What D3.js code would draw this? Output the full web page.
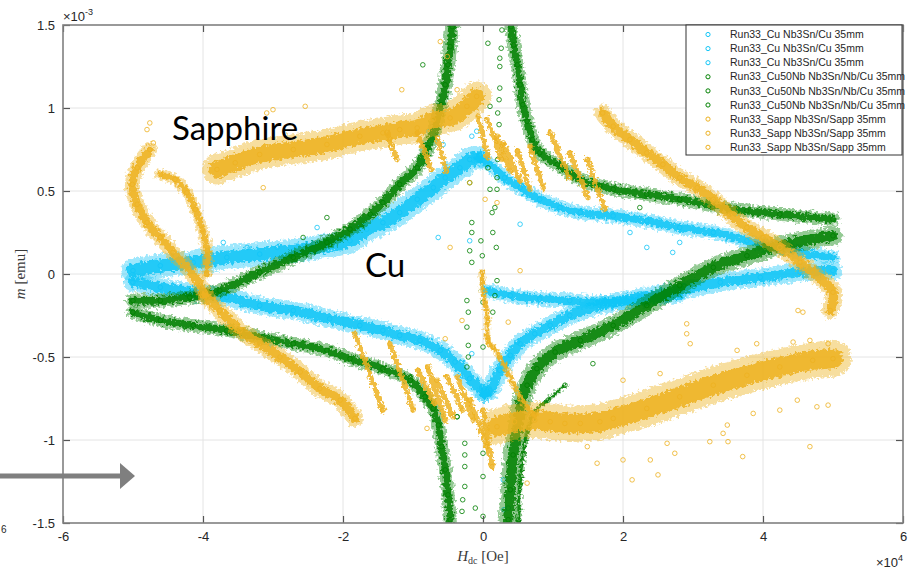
<!DOCTYPE html>
<html>
<head>
<meta charset="utf-8">
<script src="https://cdn.jsdelivr.net/npm/d3@7"></script>
<style>
  body { margin: 0; background: #fff; }
  svg { display: block; }
</style>
</head>
<body>
<svg id="chart" width="916" height="570"></svg>
<script>
// Units: field H in 1e4 Oe, moment m in 1e-3 emu.  Each branch is a list of [H, m].
const xTicks = [-6, -4, -2, 0, 2, 4, 6];
const yTicks = [-1.5, -1, -0.5, 0, 0.5, 1, 1.5];

const legendLabels = [
  "Run33_Cu Nb3Sn/Cu 35mm", "Run33_Cu Nb3Sn/Cu 35mm", "Run33_Cu Nb3Sn/Cu 35mm",
  "Run33_Cu50Nb Nb3Sn/Nb/Cu 35mm", "Run33_Cu50Nb Nb3Sn/Nb/Cu 35mm", "Run33_Cu50Nb Nb3Sn/Nb/Cu 35mm",
  "Run33_Sapp Nb3Sn/Sapp 35mm", "Run33_Sapp Nb3Sn/Sapp 35mm", "Run33_Sapp Nb3Sn/Sapp 35mm"
];
const legendSeries = ["cu", "cu", "cu", "nb", "nb", "nb", "sapp", "sapp", "sapp"];

// ---- Run33_Cu (Nb3Sn/Cu) ----
const cuUpperRight = [[5.0,0.10],[4.53,0.13],[4.24,0.16],[3.77,0.20],[3.29,0.25],[2.81,0.28],[2.34,0.32],[1.86,0.35],[1.39,0.37],[1.10,0.40],[0.81,0.45],[0.53,0.52],[0.31,0.58],[0.10,0.66],[-0.07,0.70]];
const cuUpperLeft = [[-0.07,0.70],[-0.19,0.69],[-0.33,0.64],[-0.54,0.58],[-0.71,0.52],[-0.94,0.45],[-1.19,0.37],[-1.43,0.31],[-1.66,0.27],[-1.90,0.20],[-2.23,0.17],[-2.71,0.14],[-3.19,0.12],[-3.66,0.10],[-4.14,0.07],[-4.61,0.05],[-5.0,0.02]];
const cuLowerLeft = [[0.03,-0.72],[-0.19,-0.63],[-0.40,-0.53],[-0.61,-0.46],[-0.90,-0.40],[-1.19,-0.37],[-1.43,-0.34],[-1.76,-0.31],[-2.19,-0.27],[-2.71,-0.22],[-3.19,-0.19],[-3.66,-0.14],[-4.14,-0.11],[-4.61,-0.08],[-5.0,-0.05]];
const cuLowerRight = [[0.03,-0.72],[0.10,-0.70],[0.24,-0.58],[0.39,-0.49],[0.53,-0.42],[0.74,-0.36],[0.96,-0.31],[1.24,-0.25],[1.67,-0.19],[2.24,-0.14],[2.81,-0.10],[3.39,-0.05],[3.96,-0.02],[4.53,0.01],[5.0,0.02]];
const cuVirgin = [[0.06,-0.10],[0.39,-0.13],[0.81,-0.15],[1.24,-0.16],[1.67,-0.17],[2.24,-0.16],[2.81,-0.13]];
const cuStray = [[0.29,-1.24],[0.36,-1.41],[0.30,-1.42],[0.53,0.30],[-3.71,0.19],[-3.37,0.16],[-2.94,0.16],[-2.37,0.28],[-0.57,0.78],[-0.16,0.83],[-0.09,0.86],[-0.64,0.22],[-0.19,0.20],[0.49,-0.41],[-0.16,-0.48],[2.10,0.25],[2.34,0.16],[2.81,0.19],[2.71,0.13]];

// ---- Run33_Cu50Nb (Nb3Sn/Nb/Cu) ----
const nbUpperLeft = [[-5.0,-0.16],[-4.61,-0.16],[-4.19,-0.14],[-3.76,-0.10],[-3.19,0.01],[-2.71,0.10],[-2.23,0.19],[-1.90,0.27],[-1.61,0.36],[-1.43,0.43],[-1.19,0.54],[-0.94,0.64],[-0.79,0.76],[-0.67,0.90],[-0.60,1.02],[-0.54,1.14],[-0.50,1.26],[-0.47,1.37],[-0.44,1.49],[-0.43,1.55]];
const nbUpperRight = [[0.39,1.55],[0.40,1.49],[0.44,1.38],[0.49,1.26],[0.53,1.14],[0.57,1.02],[0.63,0.92],[0.71,0.81],[0.81,0.73],[1.06,0.66],[1.39,0.57],[1.67,0.53],[1.86,0.51],[2.34,0.48],[2.81,0.45],[3.29,0.41],[3.77,0.38],[4.24,0.36],[5.0,0.33]];
const nbLowerLeft = [[-0.46,-1.55],[-0.47,-1.48],[-0.50,-1.33],[-0.54,-1.18],[-0.59,-1.04],[-0.64,-0.91],[-0.71,-0.81],[-0.83,-0.74],[-1.04,-0.64],[-1.43,-0.57],[-1.90,-0.51],[-2.23,-0.46],[-2.71,-0.42],[-3.19,-0.38],[-3.66,-0.34],[-4.14,-0.31],[-4.61,-0.28],[-5.0,-0.23]];
const nbLowerRight = [[0.35,-1.55],[0.36,-1.48],[0.39,-1.30],[0.43,-1.09],[0.49,-0.93],[0.54,-0.79],[0.63,-0.67],[0.77,-0.57],[1.03,-0.47],[1.39,-0.40],[1.86,-0.31],[2.34,-0.19],[2.81,-0.07],[3.29,0.04],[3.77,0.11],[4.24,0.17],[5.0,0.23]];
const nbLowerRight2 = [[0.51,-1.55],[0.51,-1.48],[0.53,-1.27],[0.57,-1.09],[0.64,-0.94],[0.74,-0.83],[0.93,-0.76],[1.17,-0.67]];
const nbSparse = [[0.27,1.47],[0.26,1.36],[0.24,1.30],[0.24,1.25],[0.24,1.12],[0.23,1.05],[0.21,0.97],[0.23,0.90],[0.21,0.69],[0.20,0.58],[0.20,0.51],[0.17,0.40],[0.14,0.25],[0.19,0.16],[0.07,1.39],[0.10,1.01],[0.07,0.64],[0.10,0.51],[0.13,0.37],[0.20,-0.04],[0.17,-0.13],[0.14,-0.23],[0.0,-0.17],[0.0,-0.44],[-0.16,0.31],[-0.16,0.25],[-0.19,0.14],[-0.16,0.07],[-0.03,0.20],[-0.01,0.11],[-0.23,-0.16],[-0.21,-0.23],[-0.23,-0.32],[-0.21,-0.43],[-0.21,-0.50],[-0.37,-0.86],[-0.26,-1.02],[-0.26,-1.09],[-0.26,-1.16],[-0.26,-1.28],[-0.29,-1.36],[-0.30,-1.43],[-0.11,-1.41],[0.0,-1.08],[0.0,-1.22],[0.0,-1.46],[-0.86,1.26]];
const nbStray = [[-2.23,0.34],[-2.57,0.22],[1.57,-0.54],[2.24,0.40],[-0.19,0.55],[-0.23,-0.56],[-0.37,-0.86]];

// ---- Run33_Sapp (Nb3Sn/Sapp) ----
const sappVirgin = [[-0.01,0.01],[0.0,-0.10],[0.06,-0.26],[0.07,-0.40],[0.14,-0.44],[0.24,-0.50],[0.34,-0.58],[0.43,-0.66],[0.53,-0.74],[0.63,-0.80],[0.74,-0.85]];
const sappLowerRight = [[0.20,-0.92],[0.45,-0.89],[0.74,-0.88],[0.96,-0.89],[1.17,-0.90],[1.39,-0.90],[1.67,-0.89],[1.86,-0.87],[2.34,-0.81],[2.81,-0.74],[3.29,-0.67],[3.77,-0.61],[4.24,-0.56],[4.71,-0.52],[5.0,-0.51]];
const sappUpperRight = [[4.96,-0.22],[5.0,-0.11],[4.71,0.01],[4.53,0.07],[4.24,0.16],[4.0,0.22],[3.77,0.28],[3.53,0.36],[3.29,0.45],[3.06,0.52],[2.81,0.58],[2.57,0.66],[2.34,0.73],[2.10,0.81],[1.86,0.89],[1.71,0.97]];
const sappUpperLeft = [[-0.09,1.07],[-0.23,1.01],[-0.47,0.94],[-0.71,0.93],[-0.94,0.88],[-1.19,0.87],[-1.43,0.85],[-1.76,0.83],[-2.23,0.78],[-2.71,0.75],[-3.19,0.72],[-3.54,0.67],[-3.80,0.63]];
const sappFarLeftA = [[-4.76,0.75],[-4.94,0.64],[-5.01,0.54],[-4.94,0.42],[-4.80,0.31],[-4.61,0.22],[-4.43,0.13],[-4.23,0.04],[-4.04,-0.07],[-3.97,-0.13]];
const sappFarLeftB = [[-4.61,0.60],[-4.40,0.57],[-4.23,0.49],[-4.11,0.39],[-4.01,0.27],[-3.94,0.14],[-3.95,0.0]];
const sappLowerLeft = [[-3.97,-0.13],[-3.76,-0.22],[-3.47,-0.34],[-3.19,-0.42],[-2.90,-0.50],[-2.61,-0.59],[-2.33,-0.69],[-2.04,-0.76],[-1.83,-0.87]];
// flux-jump segments (start, end)
const sappJumpsUpper = [
  [[-0.07,0.95],[0.07,0.70]], [[0.06,0.93],[0.27,0.69]], [[0.20,0.83],[0.39,0.62]],
  [[0.29,0.79],[0.53,0.56]], [[0.49,0.74],[0.67,0.51]], [[0.67,0.77],[0.86,0.52]],
  [[0.96,0.85],[1.24,0.58]], [[1.24,0.73],[1.50,0.46]], [[1.49,0.69],[1.74,0.39]],
  [[-1.37,0.85],[-1.23,0.69]], [[-0.94,0.85],[-0.74,0.63]], [[-0.65,0.82],[-0.52,0.62]]
];
const sappJumpsLower = [
  [[-1.83,-0.36],[-1.43,-0.82]], [[-1.33,-0.42],[-1.00,-0.82]], [[-0.93,-0.58],[-0.69,-0.78]],
  [[-0.79,-0.56],[-0.54,-0.88]], [[-0.66,-0.64],[-0.43,-0.86]], [[-0.51,-0.62],[-0.29,-0.82]],
  [[-0.37,-0.62],[-0.14,-0.88]], [[-0.19,-0.76],[0.06,-1.04]], [[0.00,-0.82],[0.13,-1.16]]
];
const sappStray = [[-0.61,1.40],[-0.37,1.11],[-0.51,1.31],[-1.16,1.11],[-0.19,0.55],[0.03,0.45],[0.20,0.43],[-0.47,0.16],[-0.80,-0.93],[-0.30,-0.28],[0.36,-0.29],[-0.54,-0.39],[0.63,-1.26],[0.53,0.02],[2.13,-1.24],[2.50,-1.21],[3.71,-1.10],[4.67,-1.04],[3.24,-1.01],[3.50,-1.01],[3.43,-0.96],[2.74,-1.08],[2.91,-0.30],[2.91,-0.36],[2.96,-0.42],[4.50,-0.22],[4.57,-0.23],[-4.76,0.91],[-4.80,0.87],[-4.71,0.79],[-3.09,0.97],[-2.54,1.01],[-3.0,0.99],[-3.14,0.52],[1.49,-1.04],[1.63,-1.14],[2.0,-1.12],[2.39,-1.12],[2.63,-1.02],[3.49,-0.91],[3.86,-0.84],[4.24,-0.82],[4.49,-0.76],[4.77,-0.80],[4.93,-0.79],[2.0,-0.64],[2.53,-0.60],[3.63,-0.46],[3.91,-0.42],[4.43,-0.41],[4.67,-0.40],[4.93,-0.42]];

// ---- drawing setup ----
const colors = { cu: "#12c6f7", nb: "#008000", sapp: "#edb120" };

const svg = d3.select("#chart");
const plot = { left: 63, right: 903, top: 25, bottom: 523 };

const x = d3.scaleLinear().domain([-6, 6]).range([plot.left, plot.right]);
const y = d3.scaleLinear().domain([-1.5, 1.5]).range([plot.bottom, plot.top]);

const defs = svg.append("defs");
defs.append("clipPath").attr("id", "plotClip")
  .append("rect")
  .attr("x", plot.left).attr("y", plot.top)
  .attr("width", plot.right - plot.left).attr("height", plot.bottom - plot.top);
// ragged edges for the dense point clouds
const rough = defs.append("filter").attr("id", "rough")
  .attr("x", "-5%").attr("y", "-5%").attr("width", "110%").attr("height", "110%");
rough.append("feTurbulence").attr("type", "fractalNoise").attr("baseFrequency", 0.35)
  .attr("numOctaves", 2).attr("seed", 3).attr("result", "noise");
rough.append("feDisplacementMap").attr("in", "SourceGraphic").attr("in2", "noise")
  .attr("scale", 8).attr("xChannelSelector", "R").attr("yChannelSelector", "G");

// grid
const grid = svg.append("g");
grid.selectAll("line.gx").data(xTicks.slice(1, -1)).join("line")
  .attr("x1", d => x(d)).attr("x2", d => x(d))
  .attr("y1", plot.top).attr("y2", plot.bottom)
  .attr("stroke", "#e4e4e4").attr("stroke-width", 1);
grid.selectAll("line.gy").data(yTicks.slice(1, -1)).join("line")
  .attr("y1", d => y(d)).attr("y2", d => y(d))
  .attr("x1", plot.left).attr("x2", plot.right)
  .attr("stroke", "#e4e4e4").attr("stroke-width", 1);

// data layer: per series a roughened band layer, then crisp open-circle markers
const dataG = svg.append("g").attr("clip-path", "url(#plotClip)");
const line = d3.line().x(d => x(d[0])).y(d => y(d[1])).curve(d3.curveCatmullRom.alpha(0.5));
const straight = d3.line().x(d => x(d[0])).y(d => y(d[1]));

function drawSeries(key, bands, jumpSets, scatter) {
  const c = colors[key];
  const bandG = dataG.append("g").attr("filter", "url(#rough)");
  const markG = dataG.append("g");
  const markers = pts => markG.append("g").selectAll("circle").data(pts).join("circle")
    .attr("cx", d => x(d[0])).attr("cy", d => y(d[1])).attr("r", 2.3)
    .attr("fill", "none").attr("stroke", c)
    .attr("stroke-width", 1).attr("stroke-opacity", 0.8);
  bands.forEach(([pts, w]) => {
    bandG.append("path").attr("d", line(pts))
      .attr("fill", "none").attr("stroke", c).attr("stroke-width", w)
      .attr("stroke-opacity", 0.42).attr("stroke-linecap", "round").attr("stroke-linejoin", "round");
    bandG.append("path").attr("d", line(pts))
      .attr("fill", "none").attr("stroke", c).attr("stroke-width", Math.max(2, w * 0.55))
      .attr("stroke-opacity", 0.85).attr("stroke-linecap", "round").attr("stroke-linejoin", "round");
    markers(pts);
  });
  jumpSets.forEach(([segs, w]) => segs.forEach(s => {
    bandG.append("path").attr("d", straight(s))
      .attr("stroke", c).attr("stroke-width", w).attr("stroke-opacity", 0.85)
      .attr("stroke-linecap", "round").attr("fill", "none");
    markers(s);
  }));
  scatter.forEach(pts => markers(pts));
}

drawSeries("cu",
  [[cuUpperLeft, 24], [cuUpperRight, 14], [cuLowerLeft, 18], [cuLowerRight, 18], [cuVirgin, 14]],
  [], [cuStray]);
drawSeries("nb",
  [[nbUpperLeft, 14], [nbUpperRight, 13], [nbLowerLeft, 13], [nbLowerRight, 19], [nbLowerRight2, 5]],
  [], [nbSparse, nbStray]);
drawSeries("sapp",
  [[sappLowerRight, 36], [sappUpperRight, 17], [sappUpperLeft, 30], [sappFarLeftA, 15],
   [sappFarLeftB, 11], [sappLowerLeft, 17], [sappVirgin, 6]],
  [[sappJumpsUpper, 5], [sappJumpsLower, 5]], [sappStray]);

// axes (inward ticks, box)
const fmt = d => String(d);
const axG = svg.append("g").attr("font-family", "'Liberation Sans', Arial, sans-serif");
const ax = axG.append("g").attr("transform", `translate(0,${plot.bottom})`)
  .call(d3.axisBottom(x).tickValues(xTicks).tickFormat(fmt).tickSizeInner(-7).tickSizeOuter(0).tickPadding(9));
const ay = axG.append("g").attr("transform", `translate(${plot.left},0)`)
  .call(d3.axisLeft(y).tickValues(yTicks).tickFormat(fmt).tickSizeInner(-7).tickSizeOuter(0).tickPadding(8));
const axT = axG.append("g").attr("transform", `translate(0,${plot.top})`)
  .call(d3.axisTop(x).tickValues(xTicks).tickFormat("").tickSizeInner(-7).tickSizeOuter(0));
const ayR = axG.append("g").attr("transform", `translate(${plot.right},0)`)
  .call(d3.axisRight(y).tickValues(yTicks).tickFormat("").tickSizeInner(-7).tickSizeOuter(0));
[ax, ay, axT, ayR].forEach(g => {
  g.select(".domain").remove();
  g.selectAll(".tick line").attr("stroke", "#555").attr("stroke-width", 1.2);
  g.selectAll(".tick text").attr("fill", "#262626").attr("font-size", 13);
});
svg.append("rect")
  .attr("x", plot.left).attr("y", plot.top)
  .attr("width", plot.right - plot.left).attr("height", plot.bottom - plot.top)
  .attr("fill", "none").attr("stroke", "#808080").attr("stroke-width", 1.6);

// exponent labels
const expY = svg.append("text").attr("x", plot.left).attr("y", 21)
  .attr("font-family", "'Liberation Sans', Arial, sans-serif").attr("font-size", 13).attr("fill", "#262626");
expY.append("tspan").text("\u00d710");
expY.append("tspan").attr("font-size", 9).attr("dy", -6).text("-3");
const expX = svg.append("text").attr("x", plot.right).attr("y", 567).attr("text-anchor", "end")
  .attr("font-family", "'Liberation Sans', Arial, sans-serif").attr("font-size", 13).attr("fill", "#262626");
expX.append("tspan").text("\u00d710");
expX.append("tspan").attr("font-size", 9).attr("dy", -6).text("4");

// axis titles
const xl = svg.append("text").attr("x", 483).attr("y", 561).attr("text-anchor", "middle")
  .attr("font-family", "'Liberation Serif', 'DejaVu Serif', serif").attr("font-size", 15).attr("fill", "#3a3a3a");
xl.append("tspan").attr("font-style", "italic").text("H");
xl.append("tspan").attr("font-size", 10).attr("dy", 3).text("dc");
xl.append("tspan").attr("dy", -3).text(" [Oe]");
const yl = svg.append("text").attr("transform", "translate(25,274) rotate(-90)").attr("text-anchor", "middle")
  .attr("font-family", "'Liberation Serif', 'DejaVu Serif', serif").attr("font-size", 15).attr("fill", "#3a3a3a");
yl.append("tspan").attr("font-style", "italic").text("m");
yl.append("tspan").text(" [emu]");

// legend
const lg = svg.append("g");
lg.append("rect").attr("x", 686).attr("y", 25).attr("width", 216).attr("height", 130)
  .attr("fill", "#fff").attr("stroke", "#333").attr("stroke-width", 1);
const rows = lg.selectAll("g.row").data(legendLabels).join("g")
  .attr("transform", (d, i) => `translate(0,${34.5 + i * 14.1})`);
rows.append("circle").attr("cx", 708).attr("cy", 0).attr("r", 2.1)
  .attr("fill", "none").attr("stroke", (d, i) => colors[legendSeries[i]]).attr("stroke-width", 1);
rows.append("text").attr("x", 730).attr("y", 0).attr("dy", "0.35em")
  .attr("font-family", "'Liberation Sans', Arial, sans-serif").attr("font-size", 10.5)
  .attr("fill", "#262626").text(d => d);

// annotations
const ann = svg.append("g").attr("font-family", "Lato, 'Open Sans', sans-serif").attr("fill", "#000");
ann.append("text").attr("x", 172).attr("y", 140).attr("font-size", 33).text("Sapphire");
ann.append("text").attr("x", 365).attr("y", 277).attr("font-size", 33).text("Cu");

// pointer arrow on the left margin
svg.append("line").attr("x1", 0).attr("x2", 122).attr("y1", 476).attr("y2", 476)
  .attr("stroke", "#7f7f7f").attr("stroke-width", 5);
svg.append("path").attr("d", "M120,463 L135,476 L120,489 Z").attr("fill", "#7f7f7f");
svg.append("text").attr("x", 1).attr("y", 533).attr("font-family", "'Liberation Sans', Arial, sans-serif")
  .attr("font-size", 10).attr("fill", "#262626").text("6");
</script>
</body>
</html>
